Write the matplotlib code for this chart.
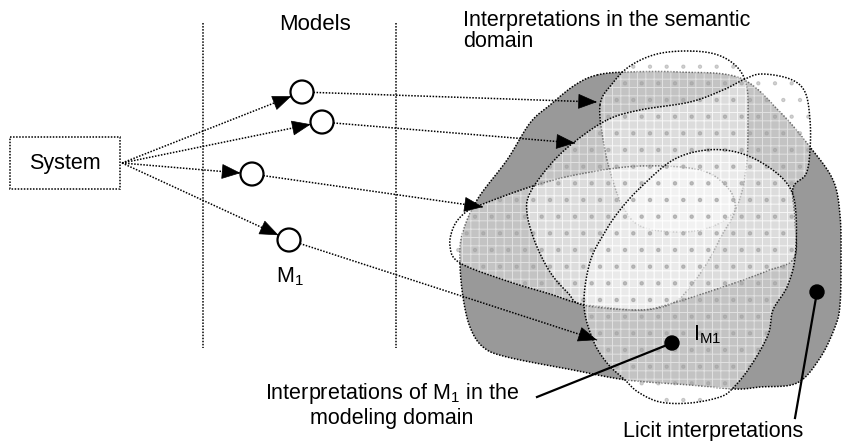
## Diagram: system -> models -> interpretations in the semantic domain

import numpy as np
import matplotlib
matplotlib.use('Agg')
import matplotlib.pyplot as plt
from matplotlib.patches import Polygon, Circle, Rectangle

plt.rcParams['font.family'] = ['Liberation Sans', 'DejaVu Sans']
plt.rcParams['hatch.linewidth'] = 0.7
plt.rcParams['mathtext.default'] = 'regular'

W, H = 842, 441

# --- data (pixel coordinates) ---
system_box = (10, 137, 110, 52)          # x, y, w, h
system_out = (122, 163)
model_centers = [(302, 92), (322, 122), (252, 174), (289, 240)]
model_radius = 11.5
interp_tips = [(597, 102), (575, 143), (483, 207), (597, 340)]
separators_x = [203, 396]
separators_y = (23, 348)

# outlines of the regions
licit = [(597, 75), (627, 72), (680, 72), (740, 78), (780, 112), (810, 147), (833, 180),
         (840, 215), (841, 260), (840, 305), (835, 327), (820, 358), (797, 383), (760, 387),
         (735, 389), (690, 385), (627, 380), (573, 370), (507, 357), (483, 347), (470, 327),
         (463, 297), (460, 263), (462, 235), (477, 200), (507, 160), (530, 123), (550, 105),
         (575, 85)]
interp_top = [(600, 105), (612, 84), (630, 66), (657, 54), (690, 51), (718, 55), (738, 68),
              (747, 88), (748, 120), (747, 160), (741, 195), (730, 216), (705, 229), (673, 232),
              (640, 226), (623, 207), (612, 178), (604, 145)]
interp_left = [(483, 204), (533, 186), (580, 174), (640, 166), (700, 170), (728, 188), (735, 210),
               (722, 235), (707, 263), (690, 287), (673, 303), (640, 310), (583, 304), (550, 294),
               (507, 281), (460, 263), (450, 246), (454, 226), (466, 212)]
interp_right = [(607, 120), (640, 110), (690, 102), (723, 90), (745, 79), (762, 74), (790, 79),
                (805, 92), (810, 120), (810, 150), (806, 174), (793, 188), (795, 220), (794, 258),
                (767, 271), (723, 287), (673, 303), (640, 310), (583, 305), (568, 293), (550, 272),
                (535, 242), (527, 213), (530, 193), (550, 165), (573, 143)]
interp_m1 = [(640, 188), (673, 160), (707, 150), (740, 153), (770, 168), (790, 188), (796, 215),
             (795, 258), (787, 287), (773, 310), (768, 335), (750, 367), (733, 388), (720, 397),
             (690, 403), (660, 402), (638, 392), (625, 380), (607, 363), (593, 340), (584, 305),
             (590, 262), (605, 232), (620, 210)]

im1_dot = (672, 343)
im1_label_end = (537, 397)
licit_dot = (817, 292)
licit_label_end = (795, 418)

DOT = (0, (1, 1))


def smooth(pts, n=14):
    # closed Catmull-Rom curve through the points
    p = np.asarray(pts, float)
    p0, p1, p2, p3 = np.roll(p, 1, 0), p, np.roll(p, -1, 0), np.roll(p, -2, 0)
    t = np.linspace(0, 1, n, endpoint=False)[:, None, None]
    c = 0.5 * ((2 * p1) + (-p0 + p2) * t + (2 * p0 - 5 * p1 + 4 * p2 - p3) * t ** 2
               + (-p0 + 3 * p1 - 3 * p2 + p3) * t ** 3)
    return c.transpose(1, 0, 2).reshape(-1, 2)


def blob(ax, pts, z):
    xy = smooth(pts)
    ax.add_patch(Polygon(xy, closed=True, facecolor=(1, 1, 1, 0.42), edgecolor='none', zorder=z))
    ax.add_patch(Polygon(xy, closed=True, facecolor='none', edgecolor=(1, 1, 1, 0.5),
                         hatch='++', lw=0, zorder=z))
    ax.add_patch(Polygon(xy, closed=True, facecolor='none', edgecolor=(0.6, 0.6, 0.6, 0.45),
                         hatch='.', lw=0, zorder=z))
    ax.add_patch(Polygon(xy, closed=True, facecolor='none', edgecolor='k', lw=1.1,
                         linestyle=DOT, zorder=z + 0.5))


def arrow(ax, start, tip):
    ax.plot([start[0], tip[0]], [start[1], tip[1]], color='k', lw=1.1, linestyle=DOT, zorder=20)
    d = np.subtract(tip, start)
    d = d / np.hypot(*d)
    ax.annotate('', xy=tip, xytext=(tip[0] - d[0] * 2, tip[1] - d[1] * 2),
                arrowprops=dict(arrowstyle='-|>,head_length=1.25,head_width=0.5',
                                color='k', lw=0.5, shrinkA=0, shrinkB=0), zorder=21)


fig = plt.figure(figsize=(W / 100, H / 100), dpi=100)
ax = fig.add_axes([0, 0, 1, 1])
ax.set_xlim(0, W)
ax.set_ylim(H, 0)
ax.axis('off')

# separators and headings
for x in separators_x:
    ax.plot([x, x], separators_y, color='k', lw=1.1, linestyle=DOT, zorder=2)
ax.text(315, 25, 'Models', ha='center', va='center', fontsize=16)
ax.text(463, 31, 'Interpretations in the semantic\ndomain', ha='left', va='center',
        fontsize=15.5, linespacing=1.05)

# system box
bx, by, bw, bh = system_box
ax.add_patch(Rectangle((bx, by), bw, bh, facecolor='none', edgecolor='k', lw=1.1, linestyle=DOT))
ax.text(bx + bw / 2, by + bh / 2, 'System', ha='center', va='center', fontsize=15.5)

# semantic domain regions
xy = smooth(licit)
ax.add_patch(Polygon(xy, closed=True, facecolor='#999999', edgecolor='none', zorder=1))
ax.add_patch(Polygon(xy, closed=True, facecolor='none', edgecolor='k', lw=1.1,
                     linestyle=DOT, zorder=1.5))
for i, pts in enumerate([interp_top, interp_left, interp_right, interp_m1]):
    blob(ax, pts, 3 + 2 * i)

# models and mappings
for c, tip in zip(model_centers, interp_tips):
    d = np.subtract(c, system_out)
    d = d / np.hypot(*d)
    arrow(ax, system_out, (c[0] - d[0] * model_radius, c[1] - d[1] * model_radius))
    ax.add_patch(Circle(c, model_radius, facecolor='white', edgecolor='k', lw=1.6, zorder=22))
    e = np.subtract(tip, c)
    e = e / np.hypot(*e)
    arrow(ax, (c[0] + e[0] * model_radius, c[1] + e[1] * model_radius), tip)

ax.text(290, 277, '$M_1$', ha='center', va='center', fontsize=15.5)

# interpretation of M1
ax.add_patch(Circle(im1_dot, 7, facecolor='k', edgecolor='k', zorder=25))
ax.plot([im1_dot[0], im1_label_end[0]], [im1_dot[1], im1_label_end[1]], color='k', lw=1.6, zorder=25)
ax.text(693, 335, '$I_{M1}$', ha='left', va='center', fontsize=15.5, zorder=25)
ax.text(392, 405, 'Interpretations of $M_1$ in the\nmodeling domain', ha='center', va='center',
        fontsize=15.5, linespacing=1.1)

# licit interpretations
ax.add_patch(Circle(licit_dot, 7, facecolor='k', edgecolor='k', zorder=25))
ax.plot([licit_dot[0], licit_label_end[0]], [licit_dot[1], licit_label_end[1]], color='k', lw=1.6, zorder=25)
ax.text(713, 432, 'Licit interpretations', ha='center', va='center', fontsize=15.5)

plt.savefig('out.png', dpi=100)
